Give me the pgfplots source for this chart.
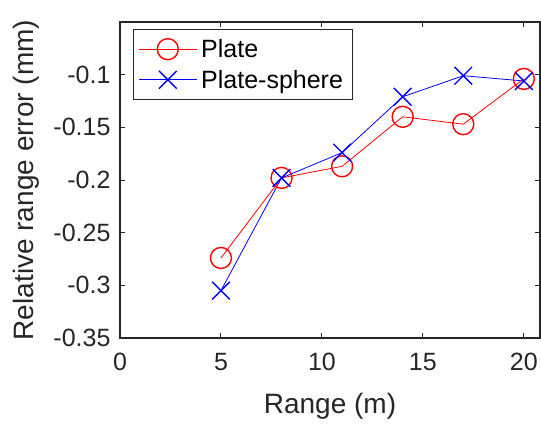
\documentclass[border=0pt]{standalone}
\usepackage{pgfplots}
\pgfplotsset{compat=1.18}
\usepackage{fontspec}
\setmainfont{Liberation Sans}
\definecolor{axgray}{rgb}{0.15,0.15,0.15}
\begin{document}
\begin{tikzpicture}
\begin{axis}[
  at={(0pt,0pt)}, anchor=south west,
  scale only axis, width=420pt, height=316pt,
  xmin=0, xmax=20.8, ymin=-0.35, ymax=-0.05,
  xtick={0,5,10,15,20}, xticklabels={0,5,10,15,20},
  ytick={-0.35,-0.3,-0.25,-0.2,-0.15,-0.1},
  yticklabels={-0.35,-0.3,-0.25,-0.2,-0.15,-0.1},
  tick align=inside, major tick length=5pt,
  axis line style={axgray, line width=1.2pt},
  tick style={axgray, line width=1pt},
  ticklabel style={font=\fontsize{25}{30}\selectfont, text=axgray},
  xticklabel style={yshift=-12pt},
  yticklabel style={xshift=-6pt},
  xlabel={Range (m)}, ylabel={Relative range error (mm)},
  label style={font=\fontsize{28}{33}\selectfont, text=axgray},
  xlabel style={yshift=-15pt},
  ylabel style={yshift=7pt},
  legend style={at={(axis description cs:0.031,0.978)}, anchor=north west,
    draw=axgray, line width=0.8pt, fill=white,
    font=\fontsize{25}{30}\selectfont, inner xsep=5pt, inner ysep=8pt,
    row sep=7pt, nodes={inner xsep=4pt}},
  legend cell align=left,
  legend image code/.code={\draw[mark repeat=2,mark phase=2] plot coordinates {(0pt,0pt) (29pt,0pt) (58pt,0pt)};},
]
\addplot[red, line width=0.8pt, mark=o, mark size=10.5pt, mark options={line width=1.4pt}]
  coordinates {(5,-0.274) (8,-0.198) (11,-0.187) (14,-0.140) (17,-0.147) (20,-0.104)};
\addlegendentry{Plate}
\addplot[blue, line width=0.8pt, mark=x, mark size=12.5pt, mark options={line width=1.4pt}]
  coordinates {(5,-0.305) (8,-0.198) (11,-0.174) (14,-0.121) (17,-0.101) (20,-0.106)};
\addlegendentry{Plate-sphere}
\end{axis}
\pgfresetboundingbox
\path (-120pt,-88pt) rectangle (421pt,338pt);
\end{tikzpicture}
\end{document}
